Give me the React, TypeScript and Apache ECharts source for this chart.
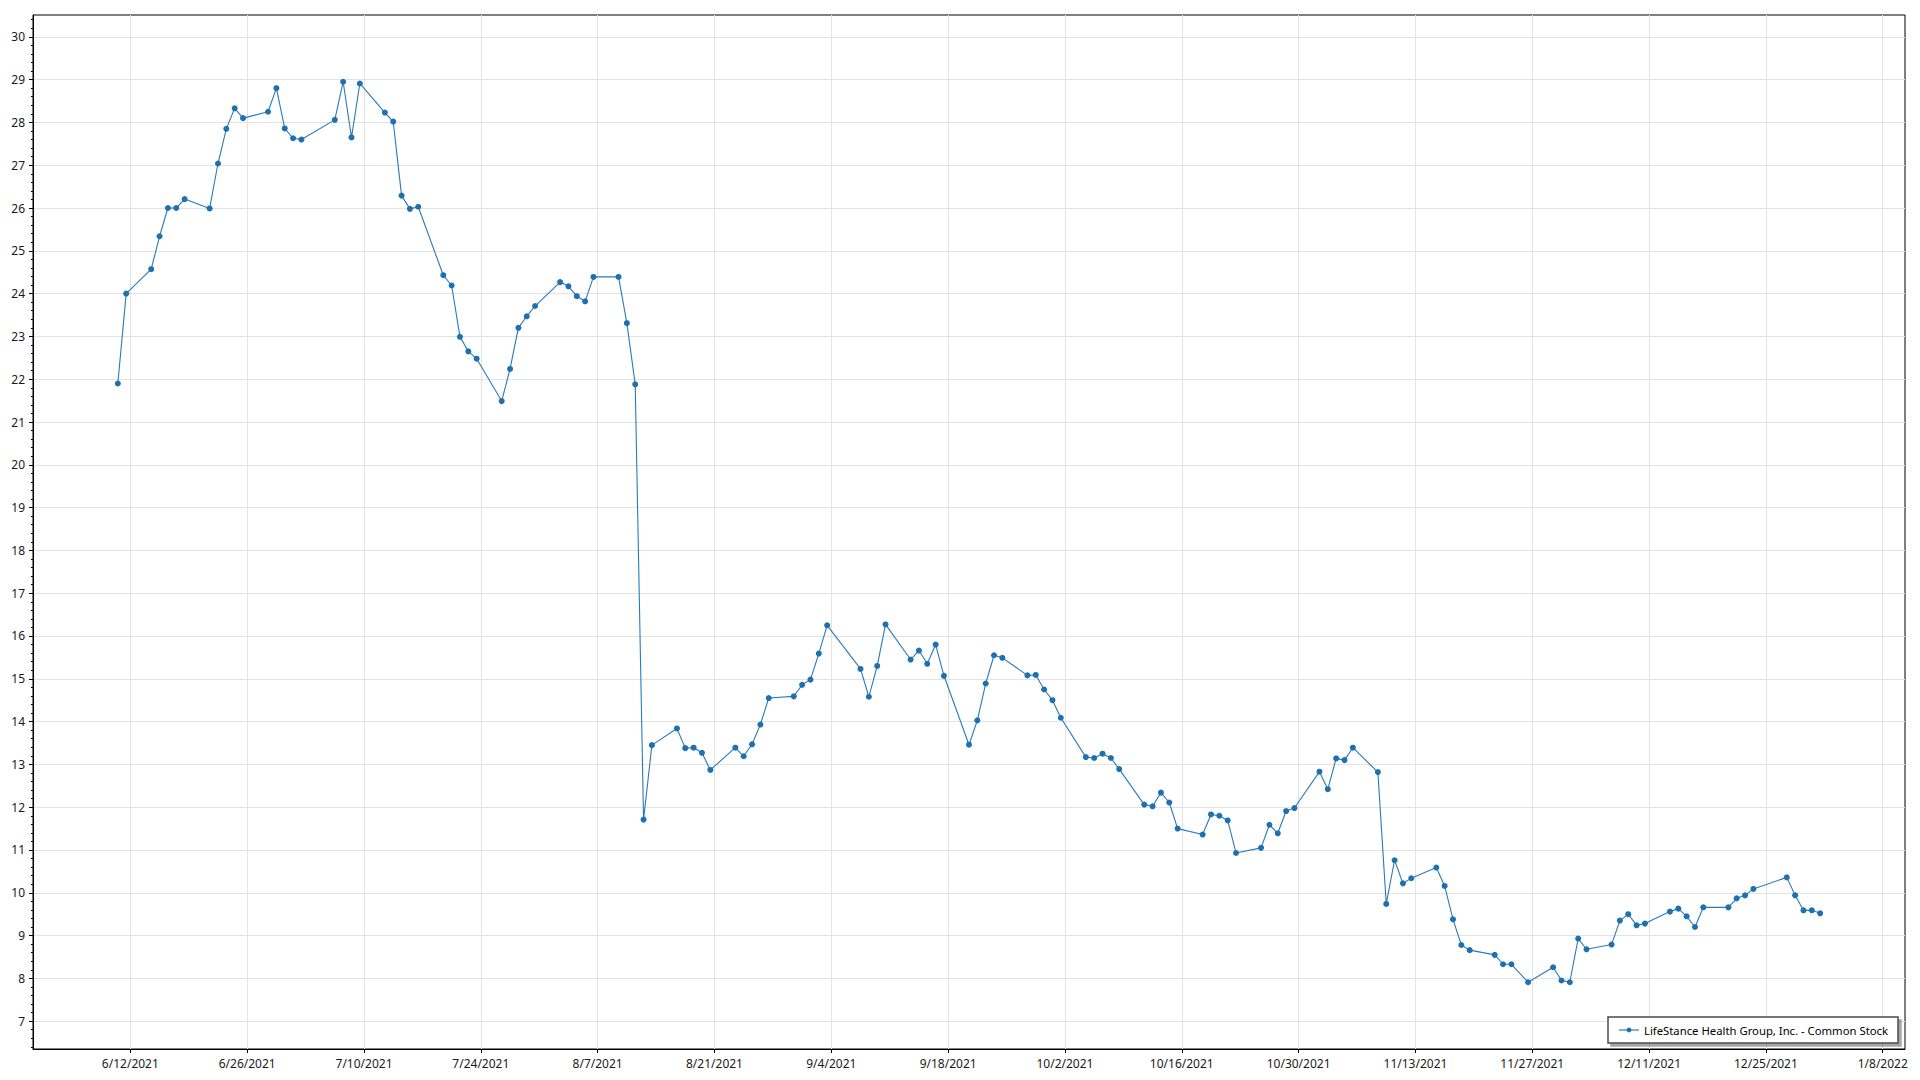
import React, { useEffect, useRef } from "react";
import * as echarts from "echarts";

const seriesName = "LifeStance Health Group, Inc. - Common Stock";

const dates: string[] = [
  "2021-06-10", "2021-06-11", "2021-06-14", "2021-06-15", "2021-06-16", "2021-06-17", "2021-06-18",
  "2021-06-21", "2021-06-22", "2021-06-23", "2021-06-24", "2021-06-25",
  "2021-06-28", "2021-06-29", "2021-06-30", "2021-07-01", "2021-07-02",
  "2021-07-06", "2021-07-07", "2021-07-08", "2021-07-09",
  "2021-07-12", "2021-07-13", "2021-07-14", "2021-07-15", "2021-07-16",
  "2021-07-19", "2021-07-20", "2021-07-21", "2021-07-22", "2021-07-23",
  "2021-07-26", "2021-07-27", "2021-07-28", "2021-07-29", "2021-07-30",
  "2021-08-02", "2021-08-03", "2021-08-04", "2021-08-05", "2021-08-06",
  "2021-08-09", "2021-08-10", "2021-08-11", "2021-08-12", "2021-08-13",
  "2021-08-16", "2021-08-17", "2021-08-18", "2021-08-19", "2021-08-20",
  "2021-08-23", "2021-08-24", "2021-08-25", "2021-08-26", "2021-08-27",
  "2021-08-30", "2021-08-31", "2021-09-01", "2021-09-02", "2021-09-03",
  "2021-09-07", "2021-09-08", "2021-09-09", "2021-09-10",
  "2021-09-13", "2021-09-14", "2021-09-15", "2021-09-16", "2021-09-17",
  "2021-09-20", "2021-09-21", "2021-09-22", "2021-09-23", "2021-09-24",
  "2021-09-27", "2021-09-28", "2021-09-29", "2021-09-30", "2021-10-01",
  "2021-10-04", "2021-10-05", "2021-10-06", "2021-10-07", "2021-10-08",
  "2021-10-11", "2021-10-12", "2021-10-13", "2021-10-14", "2021-10-15",
  "2021-10-18", "2021-10-19", "2021-10-20", "2021-10-21", "2021-10-22",
  "2021-10-25", "2021-10-26", "2021-10-27", "2021-10-28", "2021-10-29",
  "2021-11-01", "2021-11-02", "2021-11-03", "2021-11-04", "2021-11-05",
  "2021-11-08", "2021-11-09", "2021-11-10", "2021-11-11", "2021-11-12",
  "2021-11-15", "2021-11-16", "2021-11-17", "2021-11-18", "2021-11-19",
  "2021-11-22", "2021-11-23", "2021-11-24", "2021-11-26",
  "2021-11-29", "2021-11-30", "2021-12-01", "2021-12-02", "2021-12-03",
  "2021-12-06", "2021-12-07", "2021-12-08", "2021-12-09", "2021-12-10",
  "2021-12-13", "2021-12-14", "2021-12-15", "2021-12-16", "2021-12-17",
  "2021-12-20", "2021-12-21", "2021-12-22", "2021-12-23",
  "2021-12-27", "2021-12-28", "2021-12-29", "2021-12-30", "2021-12-31",
];

const prices: number[] = [
  21.9, 24.0, 24.57, 25.34, 26.0, 26.0, 26.21,
  25.99, 27.04, 27.85, 28.33, 28.1,
  28.25, 28.8, 27.86, 27.63, 27.6,
  28.06, 28.95, 27.65, 28.91,
  28.23, 28.02, 26.29, 25.98, 26.03,
  24.43, 24.19, 22.99, 22.65, 22.48,
  21.49, 22.24, 23.2, 23.47, 23.71,
  24.27, 24.17, 23.94, 23.82, 24.39,
  24.39, 23.31, 21.88, 11.71, 13.45,
  13.84, 13.38, 13.39, 13.27, 12.87,
  13.39, 13.19, 13.47, 13.93, 14.55,
  14.59, 14.86, 14.98, 15.59, 16.25,
  15.23, 14.58, 15.3, 16.27,
  15.45, 15.66, 15.35, 15.8, 15.07,
  13.46, 14.03, 14.89, 15.55, 15.49,
  15.08, 15.09, 14.75, 14.5, 14.09,
  13.17, 13.15, 13.25, 13.15, 12.89,
  12.06, 12.02, 12.34, 12.11, 11.5,
  11.36, 11.83, 11.8, 11.69, 10.93,
  11.05, 11.59, 11.39, 11.91, 11.98,
  12.83, 12.42, 13.14, 13.1, 13.39,
  12.82, 9.74, 10.76, 10.22, 10.34,
  10.59, 10.16, 9.38, 8.78, 8.66,
  8.55, 8.33, 8.33, 7.91,
  8.26, 7.95, 7.91, 8.93, 8.68,
  8.79, 9.35, 9.5, 9.24, 9.28,
  9.56, 9.63, 9.45, 9.2, 9.66,
  9.66, 9.87, 9.94, 10.09,
  10.36, 9.94, 9.59, 9.59, 9.52,
];

const xTickDates: string[] = [
  "2021-06-12", "2021-06-26", "2021-07-10", "2021-07-24", "2021-08-07", "2021-08-21",
  "2021-09-04", "2021-09-18", "2021-10-02", "2021-10-16", "2021-10-30", "2021-11-13",
  "2021-11-27", "2021-12-11", "2021-12-25", "2022-01-08",
];

const yTicks: number[] = [
  7, 8, 9, 10, 11, 12, 13, 14, 15, 16, 17, 18, 19, 20, 21, 22, 23, 24, 25, 26, 27, 28, 29, 30,
];

const xAxisMinDate = "2021-05-31T08:00:00Z";
const xAxisMaxDate = "2022-01-10T16:00:00Z";
const yAxisMin = 6.35;
const yAxisMax = 30.51;

const HOUR = 3600 * 1000;

function parseDay(s: string): number {
  const [y, m, d] = s.split("-").map(Number);
  return Date.UTC(y, m - 1, d);
}

function fmtDate(v: number): string {
  const d = new Date(v);
  return `${d.getUTCMonth() + 1}/${d.getUTCDate()}/${d.getUTCFullYear()}`;
}

const FONT = "'Segoe UI', 'Noto Sans', 'Open Sans', sans-serif";

export default function App() {
  const ref = useRef<HTMLDivElement>(null);

  useEffect(() => {
    if (!ref.current) return;
    const chart = echarts.init(ref.current, undefined, { renderer: "svg" });

    const data = dates.map((d, i) => [parseDay(d) + 12 * HOUR, prices[i]]);
    const xTicks = xTickDates.map(parseDay);

    const minorTicks: number[] = [];
    for (let k = Math.ceil(yAxisMin * 5); k <= Math.floor(yAxisMax * 5); k++) {
      if (k % 5 !== 0) minorTicks.push(k / 5);
    }

    chart.setOption({
      animation: false,
      backgroundColor: "#ffffff",
      textStyle: { fontFamily: FONT },
      grid: {
        left: 33,
        right: 15,
        top: 15,
        bottom: 31,
        show: true,
        borderColor: "#000000",
        borderWidth: 1,
        backgroundColor: "transparent",
      },
      legend: {
        data: [seriesName],
        right: 22,
        bottom: 37,
        backgroundColor: "#ffffff",
        borderColor: "#4a4a4a",
        borderWidth: 1.5,
        padding: [6, 10, 6, 10],
        itemWidth: 20,
        itemHeight: 6,
        itemStyle: { borderWidth: 0 },
        lineStyle: { color: "#7fb1d8", width: 2 },
        textStyle: { fontSize: 11.3, color: "#000000", fontFamily: FONT, lineHeight: 14 },
        shadowColor: "rgba(0,0,0,0.35)",
        shadowBlur: 1,
        shadowOffsetX: 3,
        shadowOffsetY: 3,
      },
      xAxis: {
        type: "value",
        min: Date.parse(xAxisMinDate),
        max: Date.parse(xAxisMaxDate),
        axisLine: { show: true, lineStyle: { color: "#000000", width: 1 } },
        axisTick: {
          show: true,
          length: 4,
          lineStyle: { color: "#000000" },
          customValues: xTicks,
        },
        axisLabel: {
          show: true,
          customValues: xTicks,
          formatter: (v: number) => fmtDate(v),
          fontSize: 12,
          color: "#1a1a1a",
          margin: 8,
          fontFamily: FONT,
        },
        splitLine: { show: true, lineStyle: { color: "#e3e3e3", width: 1 } },
      },
      yAxis: [
        {
          type: "value",
          min: yAxisMin,
          max: yAxisMax,
          axisLine: { show: true, lineStyle: { color: "#000000", width: 1 } },
          axisTick: {
            show: true,
            length: 4,
            lineStyle: { color: "#000000" },
            customValues: yTicks,
          },
          axisLabel: {
            show: true,
            customValues: yTicks,
            fontSize: 12,
            color: "#1a1a1a",
            margin: 8,
            fontFamily: FONT,
          },
          splitLine: { show: true, lineStyle: { color: "#e3e3e3", width: 1 } },
        },
        {
          type: "value",
          position: "left",
          min: yAxisMin,
          max: yAxisMax,
          axisLine: { show: false },
          axisTick: {
            show: true,
            length: 2,
            lineStyle: { color: "#000000" },
            customValues: minorTicks,
          },
          axisLabel: { show: false },
          splitLine: { show: false },
        },
      ],
      series: [
        {
          name: seriesName,
          type: "line",
          data,
          xAxisIndex: 0,
          yAxisIndex: 0,
          symbol: "circle",
          symbolSize: 6,
          showSymbol: true,
          lineStyle: { color: "#2a7ab8", width: 1.1 },
          itemStyle: { color: "#1f70ae" },
          emphasis: { disabled: true },
        },
      ],
    });

    return () => chart.dispose();
  }, []);

  return (
    <div
      ref={ref}
      style={{ position: "absolute", left: 0, top: 0, width: 1920, height: 1080, background: "#fff" }}
    />
  );
}
